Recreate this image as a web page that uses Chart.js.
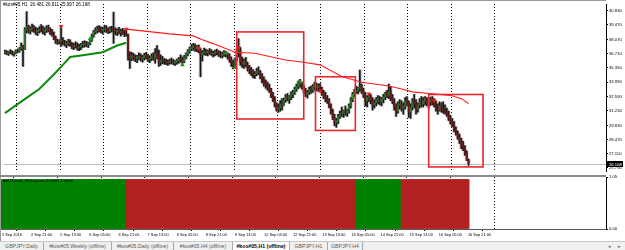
<!DOCTYPE html>
<html>
<head>
<meta charset="utf-8">
<script src="https://cdn.jsdelivr.net/npm/chart.js@4.4.1/dist/chart.umd.min.js"></script>
<style>
  html, body { margin: 0; padding: 0; background: #fff; }
  body { width: 625px; height: 250px; position: relative; overflow: hidden; font-family: "Liberation Sans", Arial, sans-serif; }
  canvas { position: absolute; left: 0; }
  #main { top: 0; }
  #ind { top: 172px; }
  .frame { position: absolute; left: 0; top: 0; width: 606px; height: 241px; border-left: 1px solid #9c9c9c; border-top: 1px solid #9c9c9c; box-sizing: border-box; }
  .sep { position: absolute; left: 0; top: 175px; width: 606px; height: 2px; background: #8a8a8a; }
  .hdr { position: absolute; left: 3px; top: 2px; font-size: 4.6px; line-height: 6px; color: #000; white-space: nowrap; }
  .ind-title { position: absolute; left: 3px; top: 178px; font-size: 4.3px; line-height: 5px; color: #000; white-space: nowrap; z-index: 3; }
  .tabs { position: absolute; left: 0; top: 241px; width: 625px; height: 9px; background: #f0f0f0; border-top: 1px solid #c8c8c8; box-sizing: border-box; }
  .tab { position: absolute; top: 0; height: 8px; line-height: 8px; font-size: 5.2px; color: #5a5a5a; text-align: center; border-right: 1px solid #a8a8a8; box-sizing: border-box; white-space: nowrap; }
  .tab.on { background: #fff; color: #000; font-weight: bold; border-left: 1px solid #a8a8a8; }
  .arr { position: absolute; top: 0; font-size: 5px; line-height: 8px; color: #707070; }
</style>
</head>
<body>
<div class="frame"></div>
<div class="sep"></div>
<canvas id="main" width="625" height="175"></canvas>
<canvas id="ind" width="625" height="69"></canvas>
<div class="hdr">#kos#05,H1&nbsp; 26.481 26.611 25.997 26.168</div>
<div class="ind-title">AbCTrend_Histogram 0.0000 1.0000</div>
<div class="tabs">
  <div class="tab" style="left:0;width:44px">GBPJPY,Daily</div>
  <div class="tab" style="left:44px;width:68px">#kos#05,Weekly (offline)</div>
  <div class="tab" style="left:112px;width:62px">#kos#05,Daily (offline)</div>
  <div class="tab" style="left:174px;width:59px">#kos#05,H4 (offline)</div>
  <div class="tab on" style="left:232px;width:58px">#kos#05,H1 (offline)</div>
  <div class="tab" style="left:290px;width:38px">GBPJPY,H1</div>
  <div class="tab" style="left:328px;width:35px">GBPJPY,H4</div>
  <div class="arr" style="left:608px">&#9666;</div>
  <div class="arr" style="left:618px">&#9656;</div>
</div>
<script>
// axis labels
const dateLabels = ['2 Sep 2016', '2 Sep 21:00', '5 Sep 13:00', '6 Sep 05:00', '6 Sep 21:00', '7 Sep 13:00',
  '8 Sep 05:00', '8 Sep 21:00', '9 Sep 13:00', '12 Sep 05:00', '12 Sep 21:00', '13 Sep 13:00',
  '14 Sep 05:00', '14 Sep 21:00', '15 Sep 13:00', '16 Sep 05:00', '16 Sep 21:00'];
const dateTickBars = [0, 16, 32, 48, 64, 80, 96, 112, 128, 144, 160, 176, 192, 208, 224, 240, 256];
const daySeparators = [18.5, 42.5, 66.5, 90.5, 114.5, 138.5, 162.5, 186.5, 210.5, 234.5, 258.5];
const priceTicks = [40.83, 39.47, 38.07, 36.71, 35.35, 33.99, 32.59, 31.23, 29.83, 28.47, 27.11, 25.75];
const histTicks = [0, 1.05];

// H1 candles, one per hour
const highs = [
  37.05, 37.00, 36.95, 37.10, 36.98, 36.90, 37.08, 37.15, 37.30, 37.75, 37.55, 39.20, 40.74, 39.45, 39.30, 39.55,
  39.40, 39.25, 39.15, 39.30, 39.50, 39.35, 39.20, 39.40, 39.45, 39.20, 39.05, 38.80, 38.40, 38.10, 38.05, 39.30,
  38.25, 38.00, 37.90, 38.10, 38.05, 37.80, 37.70, 37.85, 37.75, 37.60, 37.70, 37.90, 37.95, 37.90, 37.80, 38.10,
  38.60, 38.95, 39.20, 39.35, 39.40, 39.30, 39.25, 39.45, 39.40, 39.20, 39.30, 39.35, 40.70, 39.20, 39.10, 39.25,
  39.05, 39.15, 39.00, 38.95, 38.60, 36.90, 36.85, 36.75, 36.60, 36.55, 36.80, 36.70, 36.55, 36.75, 36.85, 36.65,
  36.50, 36.70, 36.80, 37.20, 37.50, 37.05, 36.60, 36.45, 36.25, 36.20, 36.10, 36.20, 36.30, 36.15, 36.05, 36.20,
  36.35, 36.60, 36.40, 36.55, 36.80, 37.10, 37.35, 37.60, 37.70, 37.65, 37.50, 37.55, 37.20, 37.00, 37.25, 37.15,
  37.05, 37.20, 37.10, 36.95, 37.05, 37.15, 37.00, 36.95, 36.85, 37.00, 36.95, 36.80, 36.70, 36.40, 36.10, 36.30,
  37.20, 38.15, 37.30, 36.40, 36.20, 36.35, 35.90, 35.60, 35.40, 35.20, 35.00, 35.30, 35.45, 35.10, 34.80, 34.50,
  34.20, 34.00, 33.80, 33.40, 33.00, 32.60, 32.00, 31.90, 32.20, 32.40, 32.45, 32.80, 32.90, 32.70, 33.05, 33.20,
  33.50, 33.80, 34.10, 34.25, 34.00, 33.70, 33.40, 33.20, 33.50, 33.60, 33.75, 33.98, 33.90, 33.80, 33.85, 33.50,
  33.20, 33.00, 32.70, 32.40, 31.90, 31.40, 30.90, 30.50, 30.90, 31.20, 31.60, 31.30, 31.70, 31.40, 31.90, 32.50,
  33.00, 33.30, 33.60, 33.50, 35.15, 33.80, 33.40, 33.00, 32.70, 32.90, 32.80, 32.50, 32.30, 32.50, 32.70, 32.60,
  32.50, 32.80, 33.00, 33.20, 33.80, 33.50, 32.80, 32.40, 31.90, 32.10, 32.30, 32.20, 32.00, 32.50, 32.60, 32.20,
  31.90, 32.40, 32.80, 32.30, 32.00, 32.40, 32.60, 32.50, 32.60, 32.50, 32.30, 32.55, 32.60, 32.40, 32.20, 31.90,
  32.10, 32.00, 32.10, 31.80, 31.50, 31.20, 30.80, 30.50, 30.20, 29.70, 29.30, 29.00, 28.60, 28.30, 27.90, 27.40,
  26.611
];
const lows = [
  36.70, 36.62, 36.55, 36.72, 36.60, 36.48, 36.70, 36.80, 36.85, 37.05, 35.50, 37.10, 38.70, 38.70, 38.60, 38.85,
  38.75, 38.55, 38.45, 38.70, 38.80, 38.60, 38.50, 38.75, 38.80, 38.55, 38.40, 38.05, 37.70, 37.60, 37.65, 37.40,
  37.55, 37.45, 37.30, 37.50, 37.40, 37.20, 37.10, 37.25, 37.05, 37.00, 37.10, 37.30, 37.35, 37.40, 37.30, 37.55,
  37.90, 38.30, 38.60, 38.70, 38.80, 38.70, 38.60, 38.80, 38.75, 38.65, 38.70, 38.80, 37.70, 38.55, 38.45, 38.60,
  38.40, 38.55, 38.35, 38.40, 36.10, 35.30, 36.05, 36.10, 35.95, 35.85, 36.15, 36.00, 35.90, 36.10, 36.20, 35.95,
  35.85, 36.05, 36.10, 35.80, 36.20, 35.50, 35.60, 35.75, 35.70, 35.65, 35.60, 35.70, 35.75, 35.65, 35.60, 35.70,
  35.80, 35.90, 35.70, 35.85, 36.20, 36.50, 36.75, 37.00, 37.05, 36.95, 36.90, 36.80, 34.50, 36.00, 36.60, 36.55,
  36.50, 36.65, 36.55, 36.40, 36.50, 36.60, 36.45, 36.35, 36.30, 36.45, 36.40, 36.20, 35.90, 35.50, 35.25, 35.40,
  36.00, 36.40, 35.60, 35.40, 35.30, 35.45, 35.05, 34.80, 34.60, 34.40, 34.35, 34.60, 34.70, 34.30, 33.90, 33.60,
  33.40, 33.20, 33.00, 32.50, 32.10, 31.60, 31.20, 31.10, 31.20, 31.30, 31.80, 32.05, 32.20, 31.95, 32.30, 32.50,
  32.80, 33.10, 33.35, 33.50, 33.30, 32.90, 32.60, 32.45, 32.80, 32.90, 33.00, 33.20, 33.15, 33.10, 33.05, 32.70,
  32.40, 32.10, 31.95, 31.50, 30.90, 30.40, 29.80, 29.65, 30.00, 30.50, 30.70, 30.60, 30.80, 30.70, 31.00, 31.50,
  32.10, 32.60, 32.90, 32.85, 33.10, 32.90, 32.50, 31.70, 31.60, 32.10, 31.90, 31.30, 31.50, 31.70, 31.90, 31.80,
  31.70, 32.00, 32.30, 32.50, 32.40, 32.20, 31.90, 31.30, 30.70, 31.00, 31.40, 31.20, 30.90, 31.40, 31.70, 30.60,
  30.50, 31.30, 31.50, 30.90, 31.10, 31.50, 31.60, 31.60, 31.80, 31.70, 31.50, 31.75, 31.80, 31.60, 31.20, 30.90,
  31.20, 31.10, 31.00, 30.90, 30.70, 30.30, 29.95, 29.70, 29.20, 28.90, 28.50, 28.10, 27.60, 27.40, 26.95, 26.45,
  25.997
];
const closes = [
  36.85, 36.75, 36.90, 36.80, 36.70, 36.82, 36.95, 36.92, 37.20, 37.40, 37.10, 39.05, 39.30, 38.95, 39.10, 39.20,
  38.90, 38.80, 38.95, 39.05, 38.98, 38.85, 39.00, 39.15, 38.90, 38.70, 38.60, 38.20, 37.90, 37.85, 37.95, 38.00,
  37.75, 37.60, 37.70, 37.85, 37.55, 37.40, 37.50, 37.45, 37.30, 37.35, 37.55, 37.60, 37.70, 37.55, 37.75, 38.00,
  38.45, 38.80, 38.95, 39.10, 39.00, 38.90, 39.05, 39.15, 38.95, 38.85, 39.10, 39.00, 38.90, 38.80, 38.95, 38.75,
  38.85, 38.70, 38.60, 38.55, 36.40, 36.30, 36.50, 36.35, 36.20, 36.40, 36.45, 36.25, 36.35, 36.55, 36.40, 36.15,
  36.30, 36.45, 36.25, 36.70, 36.50, 35.90, 36.10, 36.00, 35.95, 35.85, 35.90, 36.00, 35.95, 35.80, 35.95, 36.05,
  36.20, 36.10, 35.95, 36.40, 36.65, 36.95, 37.20, 37.30, 37.45, 37.20, 37.35, 37.00, 36.60, 36.80, 36.90, 36.80,
  36.95, 36.85, 36.70, 36.75, 36.90, 36.80, 36.65, 36.55, 36.70, 36.80, 36.60, 36.45, 36.10, 35.80, 35.60, 36.20,
  36.90, 37.00, 35.90, 35.70, 35.95, 35.60, 35.30, 35.10, 34.85, 34.70, 34.80, 35.05, 34.90, 34.50, 34.10, 33.85,
  33.70, 33.45, 33.20, 32.70, 32.30, 31.80, 31.40, 31.50, 31.90, 31.70, 32.30, 32.55, 32.40, 32.60, 32.80, 33.00,
  33.30, 33.60, 33.90, 33.80, 33.50, 33.10, 32.80, 33.00, 33.30, 33.20, 33.55, 33.70, 33.45, 33.60, 33.30, 32.90,
  32.60, 32.35, 32.20, 31.70, 31.10, 30.60, 30.10, 30.30, 30.70, 30.95, 31.00, 31.20, 31.05, 31.30, 31.70, 32.30,
  32.80, 33.10, 33.20, 33.40, 33.50, 33.10, 32.70, 32.20, 32.50, 32.60, 32.20, 31.80, 32.00, 32.30, 32.40, 32.10,
  32.35, 32.60, 32.85, 32.70, 33.10, 32.50, 32.10, 31.60, 31.20, 31.80, 31.90, 31.50, 31.70, 32.20, 32.00, 31.10,
  31.60, 32.10, 31.90, 31.40, 31.80, 32.10, 31.90, 32.20, 32.40, 31.95, 32.10, 32.30, 32.00, 31.80, 31.50, 31.30,
  31.70, 31.40, 31.30, 31.10, 30.90, 30.50, 30.20, 29.90, 29.40, 29.10, 28.70, 28.40, 27.90, 27.60, 27.20, 26.481,
  26.168
];
const firstOpen = 36.80;
const lastPrice = 26.168;

// moving averages (bar index, price)
const fastMaBars = [0, 9, 19, 27, 32, 36, 43, 54, 62, 67];
const fastMaValues = [31.01, 32.12, 33.33, 34.72, 35.64, 36.39, 36.57, 36.85, 37.50, 37.77];
const slowMaBars = [67, 91, 104, 109, 115, 127, 138, 155, 164, 174, 186, 197, 212, 219, 225, 236, 247, 252, 256];
const slowMaValues = [39.07, 38.61, 38.42, 38.05, 37.68, 36.85, 36.76, 36.11, 35.92, 35.64, 34.53, 33.98, 33.61, 33.33, 33.05, 32.87, 32.68, 32.40, 31.94];

// signal arrows
const sellArrowBars = [31, 67, 107, 129, 174, 201, 237];
const sellArrowValues = [39.35, 39.07, 37.22, 37.31, 33.14, 32.87, 32.22];
const buyArrowBars = [47, 98, 122, 127, 163, 192];
const buyArrowValues = [38.14, 35.64, 36.76, 35.37, 33.98, 32.59];

// drawn rectangles (bar index / price)
const boxFrom = [128, 171.5, 234];
const boxTo = [165, 193.5, 264];
const boxHigh = [38.8, 34.5, 32.8];
const boxLow = [30.45, 29.35, 25.85];

// AbCTrend histogram runs
const trendRunLengths = [69, 126, 25, 37];
const trendRunStates = ['up', 'down', 'up', 'down'];

const X_MIN = -0.5, X_MAX = 331.9;
const YFONT = { family: '"Liberation Sans", Arial, sans-serif', size: 4.2 };
const XFONT = { family: '"Liberation Sans", Arial, sans-serif', size: 3.9 };

const barIdx = closes.map((c, i) => i);
const opens = closes.map((c, i) => i === 0 ? firstOpen : closes[i - 1]);
const ranges = barIdx.map(i => ({ x: i, y: [lows[i], highs[i]] }));
const bodies = barIdx.map(i => ({ x: i, y: [opens[i], closes[i]] }));
const toPts = (xs, ys) => xs.map((x, k) => ({ x: x, y: ys[k] }));

const overlay = {
  id: 'overlay',
  beforeDatasetsDraw(chart) {
    const { ctx, chartArea: a, scales: { y } } = chart;
    const py = Math.round(y.getPixelForValue(lastPrice)) + 0.5;
    ctx.save();
    ctx.strokeStyle = '#bdbdbd';
    ctx.lineWidth = 1;
    ctx.beginPath();
    ctx.moveTo(a.left, py);
    ctx.lineTo(a.right, py);
    ctx.stroke();
    ctx.restore();
  },
  afterDatasetsDraw(chart) {
    const { ctx, scales: { x, y } } = chart;
    ctx.save();
    ctx.strokeStyle = '#e8262c';
    ctx.lineWidth = 1.6;
    boxFrom.forEach((b, k) => {
      const x1 = x.getPixelForValue(b), x2 = x.getPixelForValue(boxTo[k]);
      const y1 = y.getPixelForValue(boxHigh[k]), y2 = y.getPixelForValue(boxLow[k]);
      ctx.strokeRect(x1, y1, x2 - x1, y2 - y1);
    });
    ctx.restore();
  },
  afterDraw(chart) {
    const { ctx, chartArea: a, scales: { y } } = chart;
    const py = Math.round(y.getPixelForValue(lastPrice));
    ctx.save();
    ctx.fillStyle = '#000';
    ctx.fillRect(a.right + 1, py - 3, 16, 6);
    ctx.fillStyle = '#fff';
    ctx.font = YFONT.size + 'px ' + YFONT.family;
    ctx.textBaseline = 'middle';
    ctx.fillText(lastPrice.toFixed(3), a.right + 3, py + 0.5);
    ctx.restore();
  }
};

new Chart(document.getElementById('main'), {
  type: 'bar',
  data: {
    datasets: [
      { type: 'bar', data: ranges, backgroundColor: '#c8c8c8', barThickness: 3, grouped: false, order: 4 },
      { type: 'bar', data: ranges, backgroundColor: '#151515', barThickness: 1, grouped: false, order: 3 },
      { type: 'bar', data: bodies, backgroundColor: barIdx.map(i => closes[i] >= opens[i] ? '#2c6e2c' : '#6e1616'),
        barThickness: 1.4, grouped: false, order: 2 },
      { type: 'line', data: toPts(fastMaBars, fastMaValues), borderColor: '#0b8a0b', borderWidth: 2, pointRadius: 0, order: 1 },
      { type: 'line', data: toPts(slowMaBars, slowMaValues), borderColor: '#ff1a1a', borderWidth: 1.1, pointRadius: 0, order: 1 },
      { type: 'line', data: toPts(sellArrowBars, sellArrowValues), showLine: false, pointStyle: 'triangle', rotation: 180,
        pointRadius: 2.6, backgroundColor: '#f01818', borderWidth: 0, order: 0 },
      { type: 'line', data: toPts(buyArrowBars, buyArrowValues), showLine: false, pointStyle: 'triangle',
        pointRadius: 2.6, backgroundColor: '#1c9a1c', borderWidth: 0, order: 0 }
    ]
  },
  options: {
    responsive: false,
    animation: false,
    devicePixelRatio: 1,
    layout: { padding: { left: 1, top: 2, right: 0, bottom: 0 } },
    plugins: { legend: { display: false }, tooltip: { enabled: false } },
    scales: {
      x: {
        type: 'linear', min: X_MIN, max: X_MAX, offset: false,
        afterBuildTicks: s => { s.ticks = daySeparators.map(v => ({ value: v })); },
        afterFit: s => { s.height = 0; },
        ticks: { display: false },
        grid: { color: '#000', lineWidth: 1, drawTicks: false },
        border: { display: false, dash: [1, 2] }
      },
      y: {
        position: 'right', min: 25.46, max: 41.48,
        afterBuildTicks: s => { s.ticks = priceTicks.map(v => ({ value: v })); },
        afterFit: s => { s.width = 19; },
        ticks: { autoSkip: false, font: YFONT, color: '#000', padding: 1, callback: v => v.toFixed(3) },
        grid: { drawOnChartArea: false, drawTicks: true, tickLength: 2, tickColor: '#000' },
        border: { display: true, color: '#000', width: 1 }
      }
    }
  },
  plugins: [overlay]
});

// histogram colours from run lengths
const trendColors = [];
trendRunLengths.forEach((n, k) => {
  for (let j = 0; j < n; j++) trendColors.push(trendRunStates[k] === 'up' ? '#008000' : '#b22222');
});

new Chart(document.getElementById('ind'), {
  type: 'bar',
  data: {
    datasets: [{
      data: barIdx.map(i => ({ x: i, y: 1 })),
      backgroundColor: trendColors,
      barThickness: 2.6, grouped: false, borderWidth: 0
    }]
  },
  options: {
    responsive: false,
    animation: false,
    devicePixelRatio: 1,
    layout: { padding: { left: 1, top: 5, right: 0, bottom: 0 } },
    plugins: { legend: { display: false }, tooltip: { enabled: false } },
    scales: {
      x: {
        type: 'linear', min: X_MIN, max: X_MAX, offset: false, position: 'bottom',
        afterBuildTicks: s => { s.ticks = dateTickBars.map(v => ({ value: v })); },
        afterFit: s => { s.height = 12; },
        ticks: { autoSkip: false, maxRotation: 0, align: 'start', font: XFONT, color: '#000', padding: 2,
          callback: (v, i) => dateLabels[i] },
        grid: { drawOnChartArea: false, drawTicks: true, tickLength: 2, tickColor: '#000' },
        border: { display: true, color: '#5a5a5a', width: 1 }
      },
      xg: {
        type: 'linear', min: X_MIN, max: X_MAX, offset: false, position: 'top',
        afterBuildTicks: s => { s.ticks = daySeparators.map(v => ({ value: v })); },
        afterFit: s => { s.height = 0; },
        ticks: { display: false },
        grid: { color: '#000', lineWidth: 1, drawTicks: false },
        border: { display: false, dash: [1, 2] }
      },
      y: {
        position: 'right', min: 0, max: 1.05,
        afterBuildTicks: s => { s.ticks = histTicks.map(v => ({ value: v })); },
        afterFit: s => { s.width = 19; },
        ticks: { autoSkip: false, font: YFONT, color: '#000', padding: 1, callback: v => v.toFixed(2) },
        grid: { drawOnChartArea: false, drawTicks: true, tickLength: 2, tickColor: '#000' },
        border: { display: true, color: '#000', width: 1 }
      }
    }
  }
});
</script>
</body>
</html>
